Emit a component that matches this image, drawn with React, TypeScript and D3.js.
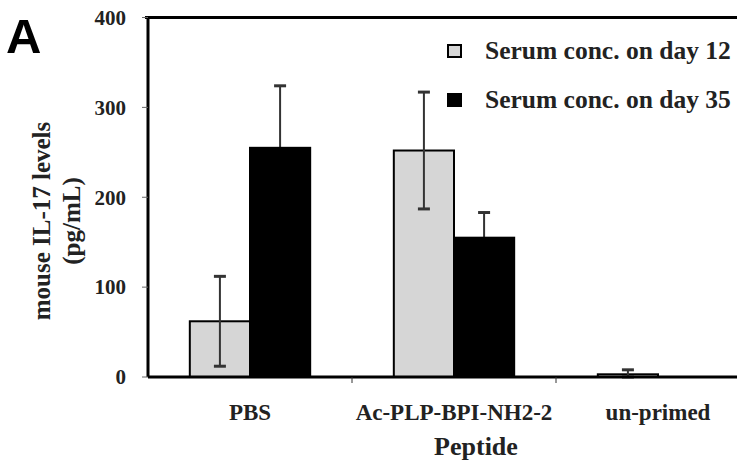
import React from "react";
import * as d3 from "d3";

const categories = ["PBS", "Ac-PLP-BPI-NH2-2", "un-primed"];
const seriesNames = ["Serum conc. on day 12", "Serum conc. on day 35"];
const day12 = [62, 252, 3];
const day12Err = [50, 65, 5];
const day35 = [255, 155, 0];
const day35Err = [69, 28, 0];
const yTicks = [0, 100, 200, 300, 400];

const W = 750;
const H = 466;
const left = 148;
const right = 737;
const top = 17.5;
const bottom = 377;
const serif = "'Liberation Serif', 'Times New Roman', serif";
const lightFill = "#d6d6d6";

export default function App() {
  const x = d3
    .scaleBand<string>()
    .domain(categories)
    .range([left, left + 612])
    .paddingInner(0.41)
    .paddingOuter(0.205);
  const sub = d3.scaleBand<number>().domain([0, 1]).range([0, x.bandwidth()]);
  const y = d3.scaleLinear().domain([0, 400]).range([bottom, top]);

  const series = [
    { vals: day12, errs: day12Err, fill: lightFill },
    { vals: day35, errs: day35Err, fill: "#000" },
  ];

  const bar = (si: number, i: number) => {
    const s = series[si];
    const c = categories[i];
    const bx = (x(c) ?? 0) + (sub(si) ?? 0);
    return (
      <rect
        key={`b${si}-${i}`}
        x={bx}
        y={y(s.vals[i])}
        width={sub.bandwidth()}
        height={bottom - y(s.vals[i])}
        fill={s.fill}
        stroke="#000"
        strokeWidth={2}
      />
    );
  };

  const err = (si: number, i: number) => {
    const s = series[si];
    if (!s.errs[i]) return null;
    const c = categories[i];
    const cx = (x(c) ?? 0) + (sub(si) ?? 0) + sub.bandwidth() / 2;
    const y1 = y(Math.max(0, s.vals[i] - s.errs[i]));
    const y2 = y(s.vals[i] + s.errs[i]);
    return (
      <g key={`e${si}-${i}`} stroke="#333" strokeWidth={2}>
        <line x1={cx} x2={cx} y1={y1} y2={y2} />
        <line x1={cx - 6} x2={cx + 6} y1={y2} y2={y2} strokeWidth={3} />
        <line x1={cx - 6} x2={cx + 6} y1={y1} y2={y1} strokeWidth={3} />
      </g>
    );
  };

  const idx = categories.map((_, i) => i);

  return (
    <svg
      width={W}
      height={H}
      style={{ position: "absolute", left: 0, top: 0, background: "#fff" }}
    >
      <text x={6} y={53} fontFamily="'Liberation Sans', Arial, sans-serif" fontWeight="bold" fontSize={49}>
        A
      </text>

      {/* bars + errors, black series drawn last so its lower whisker hides */}
      {idx.map((i) => bar(0, i))}
      {idx.map((i) => err(0, i))}
      {idx.map((i) => err(1, i))}
      {idx.map((i) => bar(1, i))}

      {/* frame */}
      <line x1={left - 3} x2={right} y1={top} y2={top} stroke="#000" strokeWidth={3} />
      <line x1={left} x2={left} y1={top} y2={bottom} stroke="#000" strokeWidth={3} />
      <line x1={left} x2={right} y1={bottom} y2={bottom} stroke="#000" strokeWidth={3} />

      {/* y ticks */}
      {yTicks.map((t) => (
        <g key={t}>
          <line x1={left - 6} x2={left} y1={y(t)} y2={y(t)} stroke="#666" strokeWidth={1} />
          <text
            x={126}
            y={y(t)}
            dy="0.35em"
            textAnchor="end"
            fontFamily={serif}
            fontWeight="bold"
            fontSize={21}
            fill="#222"
          >
            {t}
          </text>
        </g>
      ))}

      {/* x ticks between categories */}
      {categories.slice(1).map((c) => {
        const tx = (x(c) ?? 0) - (x.step() * x.paddingInner()) / 2;
        return <line key={c} x1={tx} x2={tx} y1={bottom} y2={bottom + 6} stroke="#333" strokeWidth={1} />;
      })}

      {categories.map((c) => (
        <text
          key={c}
          x={(x(c) ?? 0) + x.bandwidth() / 2}
          y={420}
          textAnchor="middle"
          fontFamily={serif}
          fontWeight="bold"
          fontSize={23}
          fill="#222"
        >
          {c}
        </text>
      ))}

      <text x={476} y={455} textAnchor="middle" fontFamily={serif} fontWeight="bold" fontSize={26} fill="#222">
        Peptide
      </text>

      <text
        transform="translate(50,221) rotate(-90)"
        textAnchor="middle"
        fontFamily={serif}
        fontWeight="bold"
        fontSize={25}
        fill="#222"
      >
        mouse IL-17 levels
      </text>
      <text
        transform="translate(80,221) rotate(-90)"
        textAnchor="middle"
        fontFamily={serif}
        fontWeight="bold"
        fontSize={25}
        fill="#222"
      >
        (pg/mL)
      </text>

      {/* legend */}
      {seriesNames.map((n, i) => (
        <g key={n} transform={`translate(448, ${51 + i * 49})`}>
          <rect
            x={0}
            y={-6}
            width={13}
            height={12}
            fill={series[i].fill}
            stroke="#000"
            strokeWidth={2}
          />
          <text x={37} y={8} fontFamily={serif} fontWeight="bold" fontSize={25.5} fill="#222">
            {n}
          </text>
        </g>
      ))}
    </svg>
  );
}
